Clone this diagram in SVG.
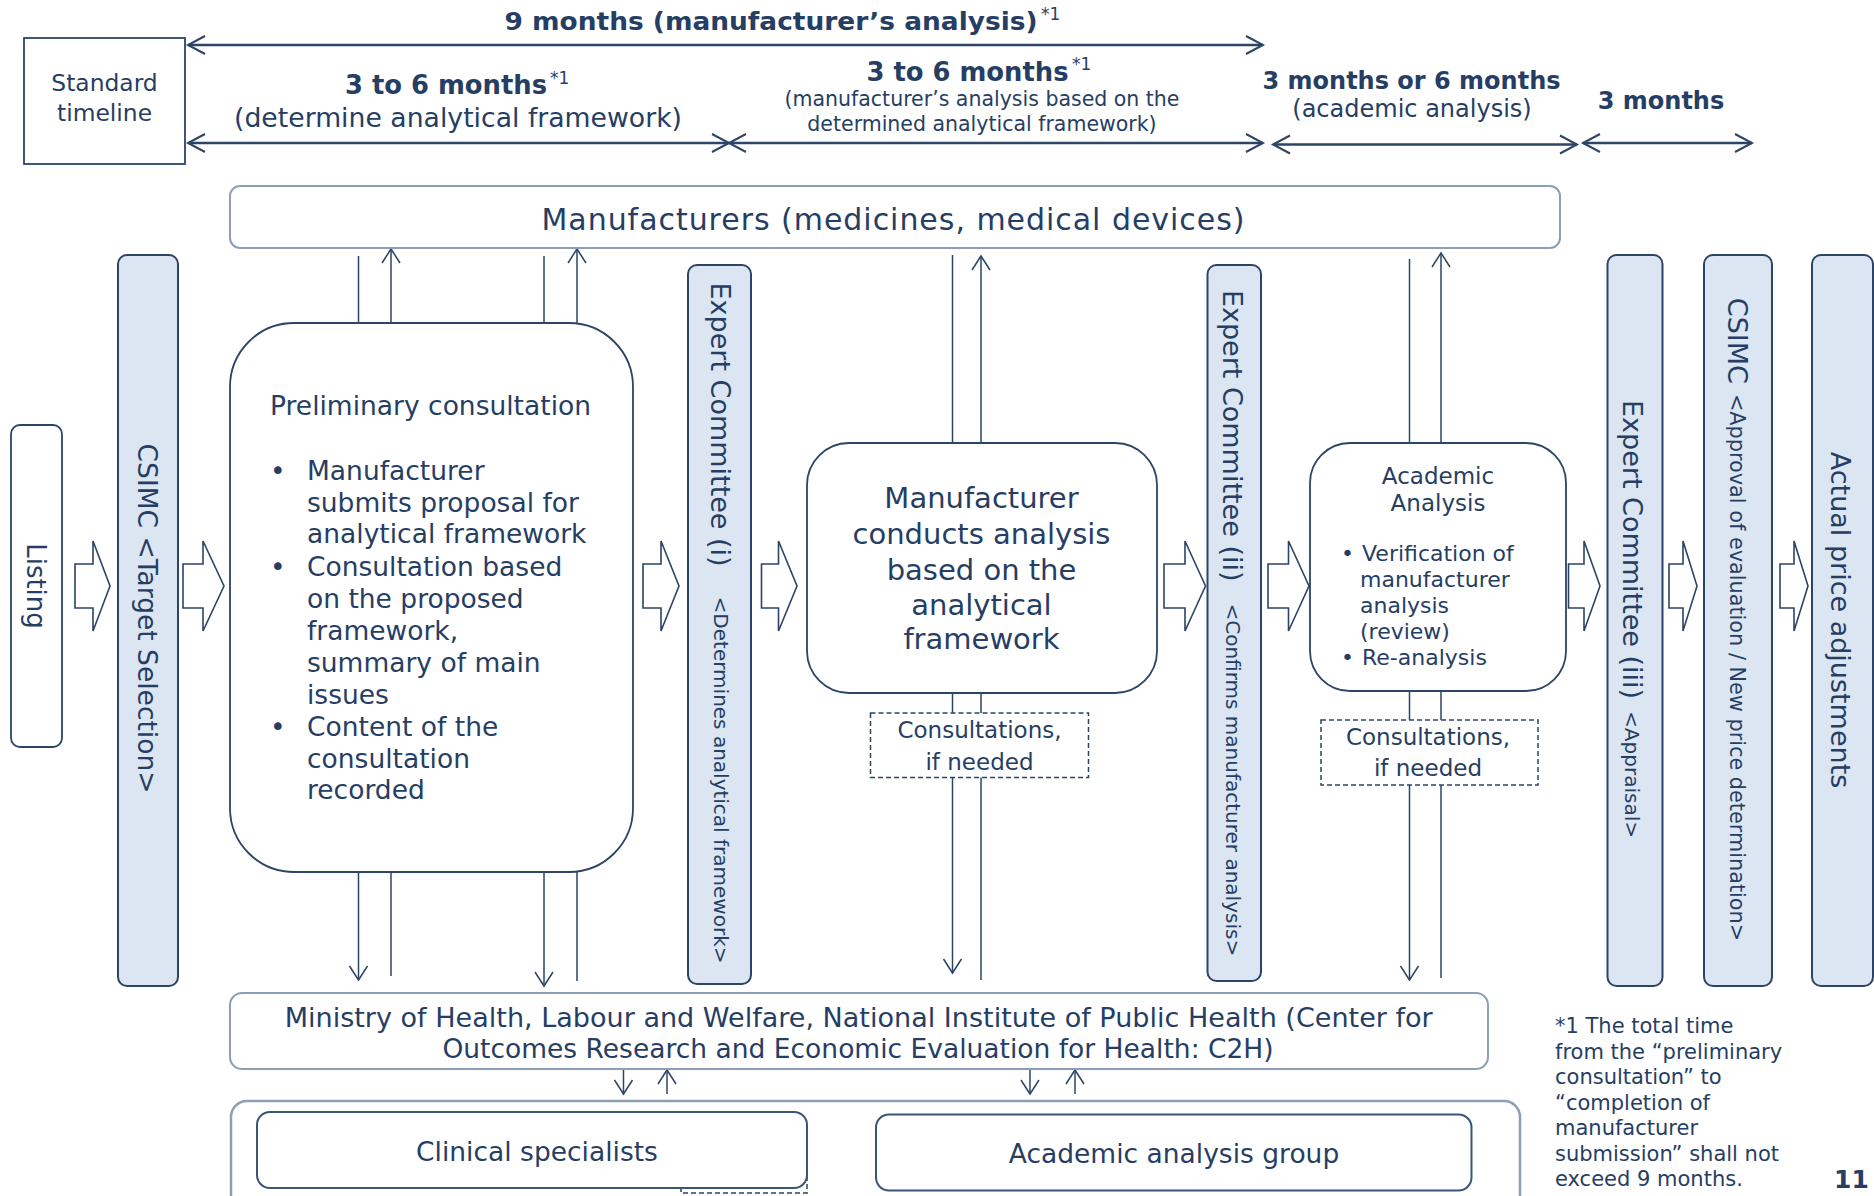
<svg xmlns="http://www.w3.org/2000/svg" width="1874" height="1196" viewBox="0 0 1874 1196">
<defs>
<style>
text{font-family:"DejaVu Sans","Verdana",sans-serif;fill:#263e63}
.b{font-weight:bold}
.sup{font-size:17px}
.bar{fill:#dce6f2;stroke:#2c4466;stroke-width:2}
.box{fill:#fff;stroke:#2c4466;stroke-width:1.8}
.gbox{fill:#fff;stroke:#8c9fb6;stroke-width:2}
.dash{fill:#fff;stroke:#2c4466;stroke-width:1.5;stroke-dasharray:5 3}
.ln{fill:none;stroke:#2c4466;stroke-width:1.5}
.ha{fill:none;stroke:#2c4466;stroke-width:2.5}
.blk{fill:#fff;stroke:#2c4466;stroke-width:1.6;stroke-linejoin:miter}
</style>
<marker id="ah" markerUnits="userSpaceOnUse" orient="auto" refX="0" refY="0" markerWidth="20" markerHeight="20" overflow="visible">
<path d="M-14,-9 L0,0 L-14,9" fill="none" stroke="#2c4466" stroke-width="1.5"/>
</marker>
<marker id="hh" markerUnits="userSpaceOnUse" orient="auto-start-reverse" refX="0" refY="0" markerWidth="20" markerHeight="20" overflow="visible">
<path d="M-17,-9 L0,0 L-17,9" fill="none" stroke="#2c4466" stroke-width="2"/>
</marker>
</defs>
<rect width="1874" height="1196" fill="#fff"/>

<!-- Timeline header -->
<g id="timeline">
<rect x="24" y="38" width="161" height="126" fill="#fff" stroke="#2c4466" stroke-width="1.8"/>
<text x="104.5" y="90.5" font-size="23.4" text-anchor="middle">Standard</text>
<text x="104.5" y="120.5" font-size="23.4" text-anchor="middle">timeline</text>
<line class="ha" x1="188" y1="45" x2="1263" y2="45" marker-start="url(#hh)" marker-end="url(#hh)"/>
<line class="ha" x1="188" y1="143" x2="729" y2="143" marker-start="url(#hh)" marker-end="url(#hh)"/>
<line class="ha" x1="729" y1="143" x2="1263" y2="143" marker-start="url(#hh)" marker-end="url(#hh)"/>
<line class="ha" x1="1273" y1="144.5" x2="1577" y2="144.5" marker-start="url(#hh)" marker-end="url(#hh)"/>
<line class="ha" x1="1583" y1="143" x2="1752" y2="143" marker-start="url(#hh)" marker-end="url(#hh)"/>
<text class="b" x="504.5" y="29.5" font-size="25" textLength="533" lengthAdjust="spacingAndGlyphs">9 months (manufacturer’s analysis)</text>
<text class="sup" x="1041" y="20">*1</text>
<text class="b" x="345" y="94" font-size="26" textLength="202" lengthAdjust="spacingAndGlyphs">3 to 6 months</text>
<text class="sup" x="550" y="84">*1</text>
<text x="458" y="126.5" font-size="26.5" text-anchor="middle" textLength="448" lengthAdjust="spacingAndGlyphs">(determine analytical framework)</text>
<text class="b" x="866.5" y="80.5" font-size="26" textLength="202" lengthAdjust="spacingAndGlyphs">3 to 6 months</text>
<text class="sup" x="1072" y="70">*1</text>
<text x="982" y="106" font-size="20.5" text-anchor="middle">(manufacturer’s analysis based on the</text>
<text x="982" y="131" font-size="20.5" text-anchor="middle">determined analytical framework)</text>
<text class="b" x="1411.5" y="88.5" font-size="24" text-anchor="middle">3 months or 6 months</text>
<text x="1412" y="117" font-size="24" text-anchor="middle">(academic analysis)</text>
<text class="b" x="1661" y="108.5" font-size="24" text-anchor="middle">3 months</text>
</g>

<!-- Connectors -->
<g id="connectors">
<line class="ln" x1="358.5" y1="256" x2="358.5" y2="323"/>
<line class="ln" x1="391" y1="323" x2="391" y2="249" marker-end="url(#ah)"/>
<line class="ln" x1="544" y1="256" x2="544" y2="323"/>
<line class="ln" x1="577" y1="323" x2="577" y2="249" marker-end="url(#ah)"/>
<line class="ln" x1="358.5" y1="872" x2="358.5" y2="980" marker-end="url(#ah)"/>
<line class="ln" x1="391" y1="872" x2="391" y2="976"/>
<line class="ln" x1="544" y1="872" x2="544" y2="986" marker-end="url(#ah)"/>
<line class="ln" x1="577" y1="872" x2="577" y2="981"/>
<line class="ln" x1="952.5" y1="255" x2="952.5" y2="443"/>
<line class="ln" x1="981" y1="443" x2="981" y2="256" marker-end="url(#ah)"/>
<line class="ln" x1="952.5" y1="693" x2="952.5" y2="973" marker-end="url(#ah)"/>
<line class="ln" x1="981" y1="693" x2="981" y2="980"/>
<line class="ln" x1="1409.5" y1="259" x2="1409.5" y2="443"/>
<line class="ln" x1="1441" y1="443" x2="1441" y2="253" marker-end="url(#ah)"/>
<line class="ln" x1="1409.5" y1="691" x2="1409.5" y2="980" marker-end="url(#ah)"/>
<line class="ln" x1="1441" y1="691" x2="1441" y2="978"/>
<line class="ln" x1="623.5" y1="1069" x2="623.5" y2="1094" marker-end="url(#ah)"/>
<line class="ln" x1="667" y1="1094" x2="667" y2="1070" marker-end="url(#ah)"/>
<line class="ln" x1="1030" y1="1069" x2="1030" y2="1094" marker-end="url(#ah)"/>
<line class="ln" x1="1075" y1="1094" x2="1075" y2="1070" marker-end="url(#ah)"/>
<path class="blk" d="M75,564 H93 V541 L110,586 L93,631 V608 H75 Z"/>
<path class="blk" d="M183,564 H203 V541 L224,586 L203,631 V608 H183 Z"/>
<path class="blk" d="M643,564 H661 V541 L679,586 L661,631 V608 H643 Z"/>
<path class="blk" d="M761.5,564 H778.5 V541 L797,586 L778.5,631 V608 H761.5 Z"/>
<path class="blk" d="M1164,564 H1185 V541 L1205.5,586 L1185,631 V608 H1164 Z"/>
<path class="blk" d="M1268,564 H1288.5 V541 L1309,586 L1288.5,631 V608 H1268 Z"/>
<path class="blk" d="M1568.5,564 H1584 V541 L1600,586 L1584,631 V608 H1568.5 Z"/>
<path class="blk" d="M1669,564 H1683 V541 L1697,586 L1683,631 V608 H1669 Z"/>
<path class="blk" d="M1780,564 H1794 V541 L1808,586 L1794,631 V608 H1780 Z"/>
</g>

<g id="manufacturers">
<rect class="gbox" x="230" y="186" width="1330" height="62" rx="10"/>
<text x="893" y="230" font-size="30" text-anchor="middle" textLength="703" lengthAdjust="spacing">Manufacturers (medicines, medical devices)</text>
</g>

<g id="listing">
<rect class="box" x="11" y="425" width="51" height="322" rx="9"/>
<text transform="translate(27,586) rotate(90)" font-size="26" text-anchor="middle">Listing</text>
</g>

<g id="csimc-target">
<rect class="bar" x="118" y="255" width="60" height="731" rx="9"/>
<text transform="translate(138,618.5) rotate(90)" font-size="26.5" text-anchor="middle">CSIMC &lt;Target Selection&gt;</text>
</g>

<g id="preliminary">
<rect class="box" x="230" y="323" width="403" height="549" rx="64"/>
<text x="270" y="415" font-size="26.5">Preliminary consultation</text>
<text x="270" y="480" font-size="26.5">•</text>
<text x="307" y="480" font-size="26.5">Manufacturer</text>
<text x="307" y="512" font-size="26.5">submits proposal for</text>
<text x="307" y="543" font-size="26.5">analytical framework</text>
<text x="270" y="575.5" font-size="26.5">•</text>
<text x="307" y="575.5" font-size="26.5">Consultation based</text>
<text x="307" y="608" font-size="26.5">on the proposed</text>
<text x="307" y="640" font-size="26.5">framework,</text>
<text x="307" y="672" font-size="26.5">summary of main</text>
<text x="307" y="704" font-size="26.5">issues</text>
<text x="270" y="736" font-size="26.5">•</text>
<text x="307" y="736" font-size="26.5">Content of the</text>
<text x="307" y="768" font-size="26.5">consultation</text>
<text x="307" y="799" font-size="26.5">recorded</text>
</g>

<g id="ec1">
<rect class="bar" x="688" y="265" width="63" height="719" rx="9"/>
<text transform="translate(711,623) rotate(90)" text-anchor="middle"><tspan font-size="27">Expert Committee (i)</tspan><tspan font-size="20" dx="30" dy="-2.5">&lt;Determines analytical framework&gt;</tspan></text>
</g>

<g id="manuf-analysis">
<rect class="box" x="807" y="443" width="350" height="250" rx="42"/>
<text x="981.5" y="508" font-size="29" text-anchor="middle">Manufacturer</text>
<text x="981.5" y="544" font-size="29" text-anchor="middle">conducts analysis</text>
<text x="981.5" y="580" font-size="29" text-anchor="middle">based on the</text>
<text x="981.5" y="615" font-size="29" text-anchor="middle">analytical</text>
<text x="981.5" y="649" font-size="29" text-anchor="middle">framework</text>
</g>

<g id="consult1">
<rect class="dash" x="870.5" y="713" width="218" height="64.5"/>
<text x="979.5" y="738" font-size="23" text-anchor="middle">Consultations,</text>
<text x="979.5" y="769.5" font-size="23" text-anchor="middle">if needed</text>
</g>

<g id="ec2">
<rect class="bar" x="1207.5" y="265" width="53.5" height="716" rx="9"/>
<text transform="translate(1223,623) rotate(90)" text-anchor="middle"><tspan font-size="27">Expert Committee (ii)</tspan><tspan font-size="20" dx="22" dy="-2.5">&lt;Confirms manufacturer analysis&gt;</tspan></text>
</g>

<g id="academic-analysis">
<rect class="box" x="1310" y="443" width="256" height="248" rx="40"/>
<text x="1438" y="484" font-size="23" text-anchor="middle">Academic</text>
<text x="1438" y="510.5" font-size="23" text-anchor="middle">Analysis</text>
<text x="1341" y="561" font-size="22">•</text>
<text x="1362" y="561" font-size="22">Verification of</text>
<text x="1360" y="587" font-size="22">manufacturer</text>
<text x="1360" y="613" font-size="22">analysis</text>
<text x="1360" y="639" font-size="22">(review)</text>
<text x="1341" y="665" font-size="22">•</text>
<text x="1362" y="665" font-size="22">Re-analysis</text>
</g>

<g id="consult2">
<rect class="dash" x="1321" y="720" width="217" height="65"/>
<text x="1428" y="745" font-size="23" text-anchor="middle">Consultations,</text>
<text x="1428" y="776" font-size="23" text-anchor="middle">if needed</text>
</g>

<g id="ec3">
<rect class="bar" x="1607.5" y="255" width="55" height="731" rx="9"/>
<text transform="translate(1622.5,619) rotate(90)" text-anchor="middle"><tspan font-size="27">Expert Committee (iii)</tspan><tspan font-size="20" dx="12" dy="-2.5">&lt;Appraisal&gt;</tspan></text>
</g>

<g id="csimc-approval">
<rect class="bar" x="1704" y="255" width="68" height="731" rx="9"/>
<text transform="translate(1728,619.5) rotate(90)" text-anchor="middle"><tspan font-size="27">CSIMC</tspan><tspan font-size="20.8" dx="10" dy="-2.3">&lt;Approval of evaluation / New price determination&gt;</tspan></text>
</g>

<g id="price-adjust">
<rect class="bar" x="1812" y="255" width="61" height="731" rx="9"/>
<text transform="translate(1831,620) rotate(90)" font-size="27" text-anchor="middle">Actual price adjustments</text>
</g>

<g id="ministry">
<rect class="gbox" x="230" y="993" width="1258" height="76" rx="12"/>
<text x="858.7" y="1026.5" font-size="26.5" text-anchor="middle" textLength="1148" lengthAdjust="spacingAndGlyphs">Ministry of Health, Labour and Welfare, National Institute of Public Health (Center for</text>
<text x="858" y="1057.5" font-size="26.5" text-anchor="middle">Outcomes Research and Economic Evaluation for Health: C2H)</text>
</g>

<g id="specialists-group">
<rect x="231" y="1101" width="1289" height="130" rx="16" fill="#fff" stroke="#8c9fb6" stroke-width="2.5"/>
<rect x="681" y="1150" width="126" height="43" fill="none" stroke="#2c4466" stroke-width="1.5" stroke-dasharray="5 3"/>
</g>

<g id="clinical">
<rect x="257" y="1112" width="550" height="76" rx="13" fill="#fff" stroke="#3b5578" stroke-width="2"/>
<text x="537" y="1160.5" font-size="26.5" text-anchor="middle">Clinical specialists</text>
</g>

<g id="academic-group">
<rect x="876" y="1114.5" width="595.5" height="76" rx="13" fill="#fff" stroke="#3b5578" stroke-width="2"/>
<text x="1174" y="1162.5" font-size="26.5" text-anchor="middle">Academic analysis group</text>
</g>

<g id="footnote">
<text x="1555" y="1033" font-size="21">*1 The total time</text>
<text x="1555" y="1058.5" font-size="21">from the “preliminary</text>
<text x="1555" y="1084" font-size="21">consultation” to</text>
<text x="1555" y="1109.6" font-size="21">“completion of</text>
<text x="1555" y="1135" font-size="21">manufacturer</text>
<text x="1555" y="1160.7" font-size="21">submission” shall not</text>
<text x="1555" y="1186.3" font-size="21">exceed 9 months.</text>
<text class="b" x="1834" y="1188" font-size="25">11</text>
</g>
</svg>
